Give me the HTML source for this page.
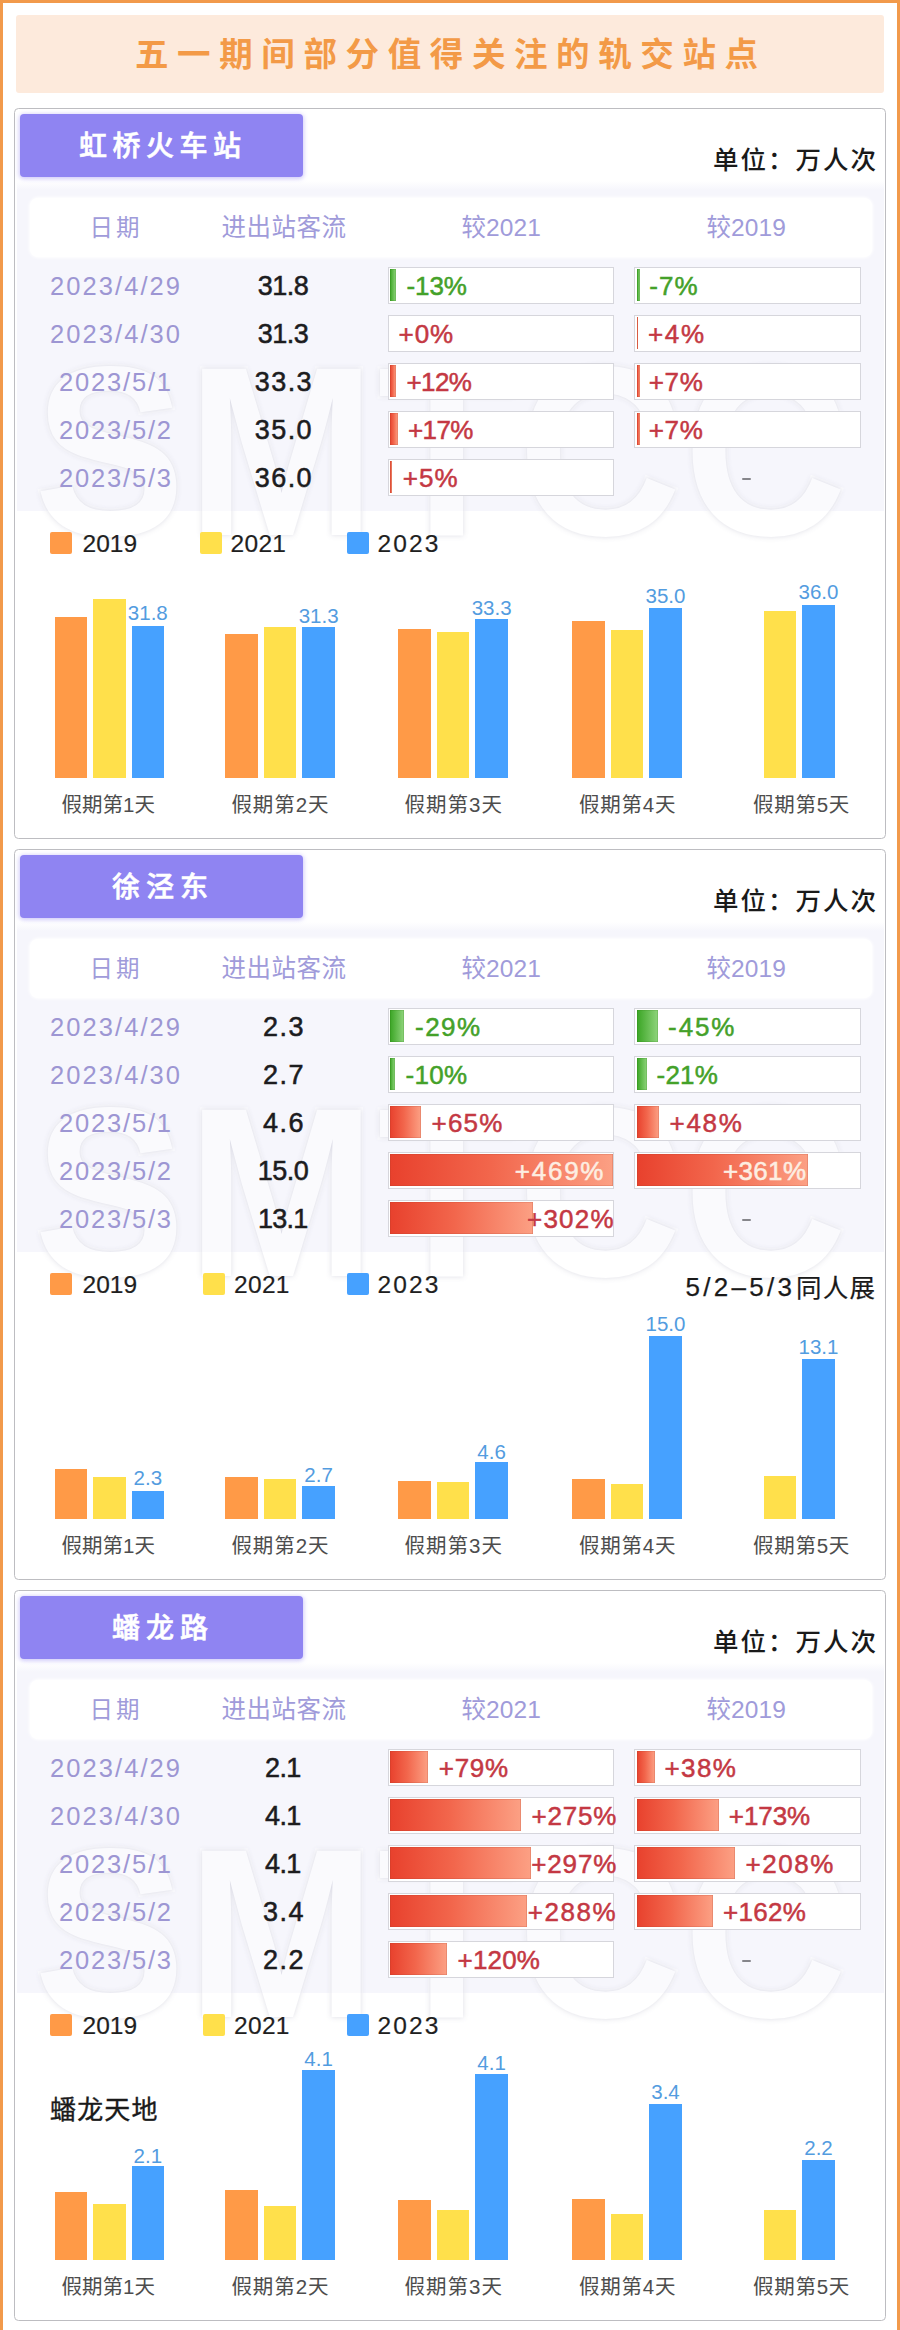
<!DOCTYPE html>
<html lang="zh-CN"><head><meta charset="utf-8"><title>五一期间部分值得关注的轨交站点</title>
<style>
html,body{margin:0;padding:0}
body{width:900px;height:2330px;position:relative;overflow:hidden;background:#fff;font-family:"Liberation Sans", "Noto Sans CJK SC", sans-serif}
#pg{position:absolute;left:0;top:0;width:900px;height:2330px;overflow:hidden}
#pg div{position:absolute}
#pg .t{height:40px;line-height:40px;white-space:nowrap;margin-top:-20px}
#pg .wm{font-weight:700;font-size:241px;line-height:241px;height:241px;color:#fff;opacity:.5;letter-spacing:2px;text-shadow:0 0 5px rgba(90,90,130,.4);white-space:nowrap;transform-origin:0 0;transform:scaleX(.94);-webkit-text-stroke:5px #fff;paint-order:stroke fill}
</style></head><body><div id="pg">
<div style="left:0.0px;top:0.0px;width:900.0px;height:3.0px;background:#f29a4b"></div>
<div style="left:0.0px;top:0.0px;width:3.0px;height:2330.0px;background:#f29a4b"></div>
<div style="left:897.0px;top:0.0px;width:3.0px;height:2330.0px;background:#f29a4b"></div>
<div style="left:15.5px;top:14.5px;width:868.0px;height:78.5px;background:#fdeadc;border-radius:3px"></div>
<div style="left:14.3px;top:108.0px;width:871.4px;height:730.5px;box-sizing:border-box;border:1.5px solid #bdbdc1;border-radius:4.5px;background:#fff"></div>
<div style="left:16.5px;top:181.0px;width:867.0px;height:329.5px;background:linear-gradient(180deg,#fff 0,#f6f6fc 9px)"></div>
<div style="left:30.0px;top:198.0px;width:842.0px;height:59.0px;background:#fff;border-radius:8px;box-shadow:0 0 3px 1px #fff"></div>
<div class="wm" style="left:34px;top:330.5px">SMTCC</div>
<div style="left:20.0px;top:114.0px;width:283.0px;height:63.0px;background:#8f84f2;border-radius:4px;box-shadow:0 1px 4px 1px rgba(150,140,245,.45)"></div>
<div style="left:387.5px;top:266.5px;width:226.5px;height:37.0px;box-sizing:border-box;border:1.5px solid #d6d6dc;background:#fff"></div>
<div style="left:390.0px;top:269.0px;width:6.2px;height:32.0px;background:linear-gradient(90deg,#3aa524 0%,#8fd47c 100%);box-shadow:inset 0 0 0 0.6px rgba(40,120,20,.35)"></div>
<div style="left:634.0px;top:266.5px;width:226.5px;height:37.0px;box-sizing:border-box;border:1.5px solid #d6d6dc;background:#fff"></div>
<div style="left:636.5px;top:269.0px;width:3.3px;height:32.0px;background:linear-gradient(90deg,#3aa524 0%,#8fd47c 100%);box-shadow:inset 0 0 0 0.6px rgba(40,120,20,.35)"></div>
<div style="left:387.5px;top:314.5px;width:226.5px;height:37.0px;box-sizing:border-box;border:1.5px solid #d6d6dc;background:#fff"></div>
<div style="left:634.0px;top:314.5px;width:226.5px;height:37.0px;box-sizing:border-box;border:1.5px solid #d6d6dc;background:#fff"></div>
<div style="left:636.5px;top:317.0px;width:1.9px;height:32.0px;background:linear-gradient(90deg,#e8412d 0%,#f2664c 45%,#fca084 100%);box-shadow:inset 0 0 0 0.6px rgba(170,60,40,.35)"></div>
<div style="left:387.5px;top:362.5px;width:226.5px;height:37.0px;box-sizing:border-box;border:1.5px solid #d6d6dc;background:#fff"></div>
<div style="left:390.0px;top:365.0px;width:5.7px;height:32.0px;background:linear-gradient(90deg,#e8412d 0%,#f2664c 45%,#fca084 100%);box-shadow:inset 0 0 0 0.6px rgba(170,60,40,.35)"></div>
<div style="left:634.0px;top:362.5px;width:226.5px;height:37.0px;box-sizing:border-box;border:1.5px solid #d6d6dc;background:#fff"></div>
<div style="left:636.5px;top:365.0px;width:3.3px;height:32.0px;background:linear-gradient(90deg,#e8412d 0%,#f2664c 45%,#fca084 100%);box-shadow:inset 0 0 0 0.6px rgba(170,60,40,.35)"></div>
<div style="left:387.5px;top:410.5px;width:226.5px;height:37.0px;box-sizing:border-box;border:1.5px solid #d6d6dc;background:#fff"></div>
<div style="left:390.0px;top:413.0px;width:8.1px;height:32.0px;background:linear-gradient(90deg,#e8412d 0%,#f2664c 45%,#fca084 100%);box-shadow:inset 0 0 0 0.6px rgba(170,60,40,.35)"></div>
<div style="left:634.0px;top:410.5px;width:226.5px;height:37.0px;box-sizing:border-box;border:1.5px solid #d6d6dc;background:#fff"></div>
<div style="left:636.5px;top:413.0px;width:3.3px;height:32.0px;background:linear-gradient(90deg,#e8412d 0%,#f2664c 45%,#fca084 100%);box-shadow:inset 0 0 0 0.6px rgba(170,60,40,.35)"></div>
<div style="left:387.5px;top:458.5px;width:226.5px;height:37.0px;box-sizing:border-box;border:1.5px solid #d6d6dc;background:#fff"></div>
<div style="left:390.0px;top:461.0px;width:2.4px;height:32.0px;background:linear-gradient(90deg,#e8412d 0%,#f2664c 45%,#fca084 100%);box-shadow:inset 0 0 0 0.6px rgba(170,60,40,.35)"></div>
<div style="left:742.0px;top:478.0px;width:9.3px;height:2.2px;background:#86868b;border-radius:1px"></div>
<div style="left:50.0px;top:532.0px;width:22.0px;height:22.0px;background:#ff9a47;border-radius:2px"></div>
<div style="left:200.0px;top:532.0px;width:22.0px;height:22.0px;background:#ffe04b;border-radius:2px"></div>
<div style="left:346.5px;top:532.0px;width:22.0px;height:22.0px;background:#46a1ff;border-radius:2px"></div>
<div style="left:54.6px;top:616.5px;width:32.5px;height:161.5px;background:#ff9a47"></div>
<div style="left:93.1px;top:598.5px;width:32.5px;height:179.5px;background:#ffe04b"></div>
<div style="left:131.6px;top:625.5px;width:32.5px;height:152.5px;background:#46a1ff"></div>
<div style="left:225.3px;top:634.0px;width:32.5px;height:144.0px;background:#ff9a47"></div>
<div style="left:263.8px;top:626.5px;width:32.5px;height:151.5px;background:#ffe04b"></div>
<div style="left:302.3px;top:626.5px;width:32.5px;height:151.5px;background:#46a1ff"></div>
<div style="left:398.3px;top:628.5px;width:32.5px;height:149.5px;background:#ff9a47"></div>
<div style="left:436.8px;top:632.0px;width:32.5px;height:146.0px;background:#ffe04b"></div>
<div style="left:475.3px;top:619.0px;width:32.5px;height:159.0px;background:#46a1ff"></div>
<div style="left:572.3px;top:620.5px;width:32.5px;height:157.5px;background:#ff9a47"></div>
<div style="left:610.8px;top:630.0px;width:32.5px;height:148.0px;background:#ffe04b"></div>
<div style="left:649.3px;top:607.5px;width:32.5px;height:170.5px;background:#46a1ff"></div>
<div style="left:763.8px;top:611.0px;width:32.5px;height:167.0px;background:#ffe04b"></div>
<div style="left:802.3px;top:605.0px;width:32.5px;height:173.0px;background:#46a1ff"></div>
<div style="left:14.3px;top:849.0px;width:871.4px;height:730.5px;box-sizing:border-box;border:1.5px solid #bdbdc1;border-radius:4.5px;background:#fff"></div>
<div style="left:16.5px;top:922.0px;width:867.0px;height:329.5px;background:linear-gradient(180deg,#fff 0,#f6f6fc 9px)"></div>
<div style="left:30.0px;top:939.0px;width:842.0px;height:59.0px;background:#fff;border-radius:8px;box-shadow:0 0 3px 1px #fff"></div>
<div class="wm" style="left:34px;top:1071.5px">SMTCC</div>
<div style="left:20.0px;top:855.0px;width:283.0px;height:63.0px;background:#8f84f2;border-radius:4px;box-shadow:0 1px 4px 1px rgba(150,140,245,.45)"></div>
<div style="left:387.5px;top:1007.5px;width:226.5px;height:37.0px;box-sizing:border-box;border:1.5px solid #d6d6dc;background:#fff"></div>
<div style="left:390.0px;top:1010.0px;width:13.8px;height:32.0px;background:linear-gradient(90deg,#3aa524 0%,#8fd47c 100%);box-shadow:inset 0 0 0 0.6px rgba(40,120,20,.35)"></div>
<div style="left:634.0px;top:1007.5px;width:226.5px;height:37.0px;box-sizing:border-box;border:1.5px solid #d6d6dc;background:#fff"></div>
<div style="left:636.5px;top:1010.0px;width:21.3px;height:32.0px;background:linear-gradient(90deg,#3aa524 0%,#8fd47c 100%);box-shadow:inset 0 0 0 0.6px rgba(40,120,20,.35)"></div>
<div style="left:387.5px;top:1055.5px;width:226.5px;height:37.0px;box-sizing:border-box;border:1.5px solid #d6d6dc;background:#fff"></div>
<div style="left:390.0px;top:1058.0px;width:4.7px;height:32.0px;background:linear-gradient(90deg,#3aa524 0%,#8fd47c 100%);box-shadow:inset 0 0 0 0.6px rgba(40,120,20,.35)"></div>
<div style="left:634.0px;top:1055.5px;width:226.5px;height:37.0px;box-sizing:border-box;border:1.5px solid #d6d6dc;background:#fff"></div>
<div style="left:636.5px;top:1058.0px;width:10.0px;height:32.0px;background:linear-gradient(90deg,#3aa524 0%,#8fd47c 100%);box-shadow:inset 0 0 0 0.6px rgba(40,120,20,.35)"></div>
<div style="left:387.5px;top:1103.5px;width:226.5px;height:37.0px;box-sizing:border-box;border:1.5px solid #d6d6dc;background:#fff"></div>
<div style="left:390.0px;top:1106.0px;width:30.8px;height:32.0px;background:linear-gradient(90deg,#e8412d 0%,#f2664c 45%,#fca084 100%);box-shadow:inset 0 0 0 0.6px rgba(170,60,40,.35)"></div>
<div style="left:634.0px;top:1103.5px;width:226.5px;height:37.0px;box-sizing:border-box;border:1.5px solid #d6d6dc;background:#fff"></div>
<div style="left:636.5px;top:1106.0px;width:22.8px;height:32.0px;background:linear-gradient(90deg,#e8412d 0%,#f2664c 45%,#fca084 100%);box-shadow:inset 0 0 0 0.6px rgba(170,60,40,.35)"></div>
<div style="left:387.5px;top:1151.5px;width:226.5px;height:37.0px;box-sizing:border-box;border:1.5px solid #d6d6dc;background:#fff"></div>
<div style="left:390.0px;top:1154.0px;width:222.5px;height:32.0px;background:linear-gradient(90deg,#e8412d 0%,#f2664c 45%,#fca084 100%);box-shadow:inset 0 0 0 0.6px rgba(170,60,40,.35)"></div>
<div style="left:634.0px;top:1151.5px;width:226.5px;height:37.0px;box-sizing:border-box;border:1.5px solid #d6d6dc;background:#fff"></div>
<div style="left:636.5px;top:1154.0px;width:171.3px;height:32.0px;background:linear-gradient(90deg,#e8412d 0%,#f2664c 45%,#fca084 100%);box-shadow:inset 0 0 0 0.6px rgba(170,60,40,.35)"></div>
<div style="left:387.5px;top:1199.5px;width:226.5px;height:37.0px;box-sizing:border-box;border:1.5px solid #d6d6dc;background:#fff"></div>
<div style="left:390.0px;top:1202.0px;width:143.3px;height:32.0px;background:linear-gradient(90deg,#e8412d 0%,#f2664c 45%,#fca084 100%);box-shadow:inset 0 0 0 0.6px rgba(170,60,40,.35)"></div>
<div style="left:742.0px;top:1219.0px;width:9.3px;height:2.2px;background:#86868b;border-radius:1px"></div>
<div style="left:50.0px;top:1273.0px;width:22.0px;height:22.0px;background:#ff9a47;border-radius:2px"></div>
<div style="left:202.5px;top:1273.0px;width:22.0px;height:22.0px;background:#ffe04b;border-radius:2px"></div>
<div style="left:346.5px;top:1273.0px;width:22.0px;height:22.0px;background:#46a1ff;border-radius:2px"></div>
<div style="left:54.6px;top:1469.0px;width:32.5px;height:50.0px;background:#ff9a47"></div>
<div style="left:93.1px;top:1476.5px;width:32.5px;height:42.5px;background:#ffe04b"></div>
<div style="left:131.6px;top:1490.5px;width:32.5px;height:28.5px;background:#46a1ff"></div>
<div style="left:225.3px;top:1477.0px;width:32.5px;height:42.0px;background:#ff9a47"></div>
<div style="left:263.8px;top:1479.0px;width:32.5px;height:40.0px;background:#ffe04b"></div>
<div style="left:302.3px;top:1486.0px;width:32.5px;height:33.0px;background:#46a1ff"></div>
<div style="left:398.3px;top:1480.5px;width:32.5px;height:38.5px;background:#ff9a47"></div>
<div style="left:436.8px;top:1481.5px;width:32.5px;height:37.5px;background:#ffe04b"></div>
<div style="left:475.3px;top:1461.5px;width:32.5px;height:57.5px;background:#46a1ff"></div>
<div style="left:572.3px;top:1478.5px;width:32.5px;height:40.5px;background:#ff9a47"></div>
<div style="left:610.8px;top:1483.5px;width:32.5px;height:35.5px;background:#ffe04b"></div>
<div style="left:649.3px;top:1336.0px;width:32.5px;height:183.0px;background:#46a1ff"></div>
<div style="left:763.8px;top:1475.5px;width:32.5px;height:43.5px;background:#ffe04b"></div>
<div style="left:802.3px;top:1359.0px;width:32.5px;height:160.0px;background:#46a1ff"></div>
<div style="left:14.3px;top:1590.0px;width:871.4px;height:730.5px;box-sizing:border-box;border:1.5px solid #bdbdc1;border-radius:4.5px;background:#fff"></div>
<div style="left:16.5px;top:1663.0px;width:867.0px;height:329.5px;background:linear-gradient(180deg,#fff 0,#f6f6fc 9px)"></div>
<div style="left:30.0px;top:1680.0px;width:842.0px;height:59.0px;background:#fff;border-radius:8px;box-shadow:0 0 3px 1px #fff"></div>
<div class="wm" style="left:34px;top:1812.5px">SMTCC</div>
<div style="left:20.0px;top:1596.0px;width:283.0px;height:63.0px;background:#8f84f2;border-radius:4px;box-shadow:0 1px 4px 1px rgba(150,140,245,.45)"></div>
<div style="left:387.5px;top:1748.5px;width:226.5px;height:37.0px;box-sizing:border-box;border:1.5px solid #d6d6dc;background:#fff"></div>
<div style="left:390.0px;top:1751.0px;width:37.5px;height:32.0px;background:linear-gradient(90deg,#e8412d 0%,#f2664c 45%,#fca084 100%);box-shadow:inset 0 0 0 0.6px rgba(170,60,40,.35)"></div>
<div style="left:634.0px;top:1748.5px;width:226.5px;height:37.0px;box-sizing:border-box;border:1.5px solid #d6d6dc;background:#fff"></div>
<div style="left:636.5px;top:1751.0px;width:18.0px;height:32.0px;background:linear-gradient(90deg,#e8412d 0%,#f2664c 45%,#fca084 100%);box-shadow:inset 0 0 0 0.6px rgba(170,60,40,.35)"></div>
<div style="left:387.5px;top:1796.5px;width:226.5px;height:37.0px;box-sizing:border-box;border:1.5px solid #d6d6dc;background:#fff"></div>
<div style="left:390.0px;top:1799.0px;width:130.5px;height:32.0px;background:linear-gradient(90deg,#e8412d 0%,#f2664c 45%,#fca084 100%);box-shadow:inset 0 0 0 0.6px rgba(170,60,40,.35)"></div>
<div style="left:634.0px;top:1796.5px;width:226.5px;height:37.0px;box-sizing:border-box;border:1.5px solid #d6d6dc;background:#fff"></div>
<div style="left:636.5px;top:1799.0px;width:82.1px;height:32.0px;background:linear-gradient(90deg,#e8412d 0%,#f2664c 45%,#fca084 100%);box-shadow:inset 0 0 0 0.6px rgba(170,60,40,.35)"></div>
<div style="left:387.5px;top:1844.5px;width:226.5px;height:37.0px;box-sizing:border-box;border:1.5px solid #d6d6dc;background:#fff"></div>
<div style="left:390.0px;top:1847.0px;width:140.9px;height:32.0px;background:linear-gradient(90deg,#e8412d 0%,#f2664c 45%,#fca084 100%);box-shadow:inset 0 0 0 0.6px rgba(170,60,40,.35)"></div>
<div style="left:634.0px;top:1844.5px;width:226.5px;height:37.0px;box-sizing:border-box;border:1.5px solid #d6d6dc;background:#fff"></div>
<div style="left:636.5px;top:1847.0px;width:98.7px;height:32.0px;background:linear-gradient(90deg,#e8412d 0%,#f2664c 45%,#fca084 100%);box-shadow:inset 0 0 0 0.6px rgba(170,60,40,.35)"></div>
<div style="left:387.5px;top:1892.5px;width:226.5px;height:37.0px;box-sizing:border-box;border:1.5px solid #d6d6dc;background:#fff"></div>
<div style="left:390.0px;top:1895.0px;width:136.6px;height:32.0px;background:linear-gradient(90deg,#e8412d 0%,#f2664c 45%,#fca084 100%);box-shadow:inset 0 0 0 0.6px rgba(170,60,40,.35)"></div>
<div style="left:634.0px;top:1892.5px;width:226.5px;height:37.0px;box-sizing:border-box;border:1.5px solid #d6d6dc;background:#fff"></div>
<div style="left:636.5px;top:1895.0px;width:76.9px;height:32.0px;background:linear-gradient(90deg,#e8412d 0%,#f2664c 45%,#fca084 100%);box-shadow:inset 0 0 0 0.6px rgba(170,60,40,.35)"></div>
<div style="left:387.5px;top:1940.5px;width:226.5px;height:37.0px;box-sizing:border-box;border:1.5px solid #d6d6dc;background:#fff"></div>
<div style="left:390.0px;top:1943.0px;width:56.9px;height:32.0px;background:linear-gradient(90deg,#e8412d 0%,#f2664c 45%,#fca084 100%);box-shadow:inset 0 0 0 0.6px rgba(170,60,40,.35)"></div>
<div style="left:742.0px;top:1960.0px;width:9.3px;height:2.2px;background:#86868b;border-radius:1px"></div>
<div style="left:50.0px;top:2014.0px;width:22.0px;height:22.0px;background:#ff9a47;border-radius:2px"></div>
<div style="left:202.5px;top:2014.0px;width:22.0px;height:22.0px;background:#ffe04b;border-radius:2px"></div>
<div style="left:346.5px;top:2014.0px;width:22.0px;height:22.0px;background:#46a1ff;border-radius:2px"></div>
<div style="left:54.6px;top:2191.5px;width:32.5px;height:68.5px;background:#ff9a47"></div>
<div style="left:93.1px;top:2203.5px;width:32.5px;height:56.5px;background:#ffe04b"></div>
<div style="left:131.6px;top:2166.0px;width:32.5px;height:94.0px;background:#46a1ff"></div>
<div style="left:225.3px;top:2190.0px;width:32.5px;height:70.0px;background:#ff9a47"></div>
<div style="left:263.8px;top:2205.5px;width:32.5px;height:54.5px;background:#ffe04b"></div>
<div style="left:302.3px;top:2070.0px;width:32.5px;height:190.0px;background:#46a1ff"></div>
<div style="left:398.3px;top:2199.5px;width:32.5px;height:60.5px;background:#ff9a47"></div>
<div style="left:436.8px;top:2210.0px;width:32.5px;height:50.0px;background:#ffe04b"></div>
<div style="left:475.3px;top:2074.0px;width:32.5px;height:186.0px;background:#46a1ff"></div>
<div style="left:572.3px;top:2199.0px;width:32.5px;height:61.0px;background:#ff9a47"></div>
<div style="left:610.8px;top:2214.0px;width:32.5px;height:46.0px;background:#ffe04b"></div>
<div style="left:649.3px;top:2104.0px;width:32.5px;height:156.0px;background:#46a1ff"></div>
<div style="left:763.8px;top:2210.0px;width:32.5px;height:50.0px;background:#ffe04b"></div>
<div style="left:802.3px;top:2160.0px;width:32.5px;height:100.0px;background:#46a1ff"></div>
<div class="t" id="t1" style="font-size:33.5px;color:#f39a47;font-weight:700;letter-spacing:8.61px;left:135.0px;top:54.5px;"><span>五一期间部分值得关注的轨交站点</span></div>
<div class="t" id="t2" style="font-size:28px;color:#fff;font-weight:500;-webkit-text-stroke:0.6px #fff;letter-spacing:5.50px;left:79.0px;top:146.5px;"><span>虹桥火车站</span></div>
<div class="t" id="t3" style="font-size:25.5px;color:#1a1a1a;font-weight:500;letter-spacing:2.00px;right:22.0px;top:159.5px;"><span>单位：万人次</span></div>
<div class="t" id="t4" style="font-size:23.5px;color:#a09bda;letter-spacing:3.00px;left:89.5px;top:228.0px;"><span>日期</span></div>
<div class="t" id="t5" style="font-size:24.5px;color:#a09bda;letter-spacing:0.50px;left:221.5px;top:228.0px;"><span>进出站客流</span></div>
<div class="t" id="t6" style="font-size:24.5px;color:#a09bda;letter-spacing:0.12px;left:461.5px;top:228.0px;"><span>较2021</span></div>
<div class="t" id="t7" style="font-size:24.5px;color:#a09bda;letter-spacing:0.12px;left:706.5px;top:228.0px;"><span>较2019</span></div>
<div class="t" id="t8" style="font-size:25.5px;color:#9d96d3;letter-spacing:2.07px;left:116.0px;width:0;display:flex;justify-content:center;top:286.0px;"><span>2023/4/29</span></div>
<div class="t" id="t9" style="font-size:27px;color:#1c1c1e;-webkit-text-stroke:0.55px #1c1c1e;letter-spacing:-0.49px;left:283.0px;width:0;display:flex;justify-content:center;top:285.7px;"><span>31.8</span></div>
<div class="t" id="t10" style="font-size:26px;color:#44a129;-webkit-text-stroke:0.5px #44a129;letter-spacing:-0.07px;left:406.5px;top:285.5px;"><span>-13%</span></div>
<div class="t" id="t11" style="font-size:26px;color:#44a129;-webkit-text-stroke:0.5px #44a129;letter-spacing:1.03px;left:649.3px;top:285.5px;"><span>-7%</span></div>
<div class="t" id="t12" style="font-size:25.5px;color:#9d96d3;letter-spacing:2.07px;left:116.0px;width:0;display:flex;justify-content:center;top:334.0px;"><span>2023/4/30</span></div>
<div class="t" id="t13" style="font-size:27px;color:#1c1c1e;-webkit-text-stroke:0.55px #1c1c1e;letter-spacing:-0.49px;left:283.0px;width:0;display:flex;justify-content:center;top:333.7px;"><span>31.3</span></div>
<div class="t" id="t14" style="font-size:26px;color:#c43843;-webkit-text-stroke:0.5px #c43843;letter-spacing:0.92px;left:398.6px;top:333.5px;"><span>+0%</span></div>
<div class="t" id="t15" style="font-size:26px;color:#c43843;-webkit-text-stroke:0.5px #c43843;letter-spacing:1.62px;left:648.0px;top:333.5px;"><span>+4%</span></div>
<div class="t" id="t16" style="font-size:25.5px;color:#9d96d3;letter-spacing:1.82px;left:115.9px;width:0;display:flex;justify-content:center;top:382.0px;"><span>2023/5/1</span></div>
<div class="t" id="t17" style="font-size:27px;color:#1c1c1e;-webkit-text-stroke:0.55px #1c1c1e;letter-spacing:1.45px;left:283.9px;width:0;display:flex;justify-content:center;top:381.7px;"><span>33.3</span></div>
<div class="t" id="t18" style="font-size:26px;color:#c43843;-webkit-text-stroke:0.5px #c43843;letter-spacing:-0.58px;left:406.5px;top:381.5px;"><span>+12%</span></div>
<div class="t" id="t19" style="font-size:26px;color:#c43843;-webkit-text-stroke:0.5px #c43843;letter-spacing:0.62px;left:648.8px;top:381.5px;"><span>+7%</span></div>
<div class="t" id="t20" style="font-size:25.5px;color:#9d96d3;letter-spacing:1.82px;left:115.9px;width:0;display:flex;justify-content:center;top:430.0px;"><span>2023/5/2</span></div>
<div class="t" id="t21" style="font-size:27px;color:#1c1c1e;-webkit-text-stroke:0.55px #1c1c1e;letter-spacing:1.45px;left:283.9px;width:0;display:flex;justify-content:center;top:429.7px;"><span>35.0</span></div>
<div class="t" id="t22" style="font-size:26px;color:#c43843;-webkit-text-stroke:0.5px #c43843;letter-spacing:-0.58px;left:408.0px;top:429.5px;"><span>+17%</span></div>
<div class="t" id="t23" style="font-size:26px;color:#c43843;-webkit-text-stroke:0.5px #c43843;letter-spacing:0.62px;left:648.8px;top:429.5px;"><span>+7%</span></div>
<div class="t" id="t24" style="font-size:25.5px;color:#9d96d3;letter-spacing:1.82px;left:115.9px;width:0;display:flex;justify-content:center;top:478.0px;"><span>2023/5/3</span></div>
<div class="t" id="t25" style="font-size:27px;color:#1c1c1e;-webkit-text-stroke:0.55px #1c1c1e;letter-spacing:1.45px;left:283.9px;width:0;display:flex;justify-content:center;top:477.7px;"><span>36.0</span></div>
<div class="t" id="t26" style="font-size:26px;color:#c43843;-webkit-text-stroke:0.5px #c43843;letter-spacing:1.07px;left:402.7px;top:477.5px;"><span>+5%</span></div>
<div class="t" id="t27" style="font-size:24.5px;color:#1f1f1f;-webkit-text-stroke:0.2px #1f1f1f;left:82.5px;top:543.5px;"><span>2019</span></div>
<div class="t" id="t28" style="font-size:24.5px;color:#1f1f1f;-webkit-text-stroke:0.2px #1f1f1f;letter-spacing:0.33px;left:230.5px;top:543.5px;"><span>2021</span></div>
<div class="t" id="t29" style="font-size:24.5px;color:#1f1f1f;-webkit-text-stroke:0.2px #1f1f1f;letter-spacing:2.16px;left:377.5px;top:543.5px;"><span>2023</span></div>
<div class="t" id="t30" style="font-size:20.5px;color:#539cdf;left:147.8px;width:0;display:flex;justify-content:center;top:613.2px;"><span>31.8</span></div>
<div class="t" id="t31" style="font-size:20.5px;color:#4d4d4d;letter-spacing:0.02px;left:108.2px;width:0;display:flex;justify-content:center;top:805.0px;"><span>假期第1天</span></div>
<div class="t" id="t32" style="font-size:20.5px;color:#539cdf;left:318.6px;width:0;display:flex;justify-content:center;top:615.5px;"><span>31.3</span></div>
<div class="t" id="t33" style="font-size:20.5px;color:#4d4d4d;letter-spacing:0.90px;left:280.4px;width:0;display:flex;justify-content:center;top:805.0px;"><span>假期第2天</span></div>
<div class="t" id="t34" style="font-size:20.5px;color:#539cdf;left:491.6px;width:0;display:flex;justify-content:center;top:607.6px;"><span>33.3</span></div>
<div class="t" id="t35" style="font-size:20.5px;color:#4d4d4d;letter-spacing:1.02px;left:453.8px;width:0;display:flex;justify-content:center;top:805.0px;"><span>假期第3天</span></div>
<div class="t" id="t36" style="font-size:20.5px;color:#539cdf;left:665.5px;width:0;display:flex;justify-content:center;top:595.5px;"><span>35.0</span></div>
<div class="t" id="t37" style="font-size:20.5px;color:#4d4d4d;letter-spacing:0.75px;left:627.6px;width:0;display:flex;justify-content:center;top:805.0px;"><span>假期第4天</span></div>
<div class="t" id="t38" style="font-size:20.5px;color:#539cdf;left:818.5px;width:0;display:flex;justify-content:center;top:592.0px;"><span>36.0</span></div>
<div class="t" id="t39" style="font-size:20.5px;color:#4d4d4d;letter-spacing:0.75px;left:801.5px;width:0;display:flex;justify-content:center;top:805.0px;"><span>假期第5天</span></div>
<div class="t" id="t40" style="font-size:28px;color:#fff;font-weight:500;-webkit-text-stroke:0.6px #fff;letter-spacing:5.99px;left:112.0px;top:887.5px;"><span>徐泾东</span></div>
<div class="t" id="t41" style="font-size:25.5px;color:#1a1a1a;font-weight:500;letter-spacing:2.00px;right:22.0px;top:900.5px;"><span>单位：万人次</span></div>
<div class="t" id="t42" style="font-size:23.5px;color:#a09bda;letter-spacing:3.00px;left:89.5px;top:969.0px;"><span>日期</span></div>
<div class="t" id="t43" style="font-size:24.5px;color:#a09bda;letter-spacing:0.50px;left:221.5px;top:969.0px;"><span>进出站客流</span></div>
<div class="t" id="t44" style="font-size:24.5px;color:#a09bda;letter-spacing:0.12px;left:461.5px;top:969.0px;"><span>较2021</span></div>
<div class="t" id="t45" style="font-size:24.5px;color:#a09bda;letter-spacing:0.12px;left:706.5px;top:969.0px;"><span>较2019</span></div>
<div class="t" id="t46" style="font-size:25.5px;color:#9d96d3;letter-spacing:2.07px;left:116.0px;width:0;display:flex;justify-content:center;top:1027.0px;"><span>2023/4/29</span></div>
<div class="t" id="t47" style="font-size:27px;color:#1c1c1e;-webkit-text-stroke:0.55px #1c1c1e;letter-spacing:1.48px;left:283.9px;width:0;display:flex;justify-content:center;top:1026.7px;"><span>2.3</span></div>
<div class="t" id="t48" style="font-size:26px;color:#44a129;-webkit-text-stroke:0.5px #44a129;letter-spacing:1.43px;left:415.1px;top:1026.5px;"><span>-29%</span></div>
<div class="t" id="t49" style="font-size:26px;color:#44a129;-webkit-text-stroke:0.5px #44a129;letter-spacing:1.90px;left:668.1px;top:1026.5px;"><span>-45%</span></div>
<div class="t" id="t50" style="font-size:25.5px;color:#9d96d3;letter-spacing:2.07px;left:116.0px;width:0;display:flex;justify-content:center;top:1075.0px;"><span>2023/4/30</span></div>
<div class="t" id="t51" style="font-size:27px;color:#1c1c1e;-webkit-text-stroke:0.55px #1c1c1e;letter-spacing:1.48px;left:283.9px;width:0;display:flex;justify-content:center;top:1074.7px;"><span>2.7</span></div>
<div class="t" id="t52" style="font-size:26px;color:#44a129;-webkit-text-stroke:0.5px #44a129;letter-spacing:0.27px;left:405.6px;top:1074.5px;"><span>-10%</span></div>
<div class="t" id="t53" style="font-size:26px;color:#44a129;-webkit-text-stroke:0.5px #44a129;letter-spacing:0.17px;left:656.6px;top:1074.5px;"><span>-21%</span></div>
<div class="t" id="t54" style="font-size:25.5px;color:#9d96d3;letter-spacing:1.82px;left:115.9px;width:0;display:flex;justify-content:center;top:1123.0px;"><span>2023/5/1</span></div>
<div class="t" id="t55" style="font-size:27px;color:#1c1c1e;-webkit-text-stroke:0.55px #1c1c1e;letter-spacing:1.48px;left:283.9px;width:0;display:flex;justify-content:center;top:1122.7px;"><span>4.6</span></div>
<div class="t" id="t56" style="font-size:26px;color:#c43843;-webkit-text-stroke:0.5px #c43843;letter-spacing:1.16px;left:431.6px;top:1122.5px;"><span>+65%</span></div>
<div class="t" id="t57" style="font-size:26px;color:#c43843;-webkit-text-stroke:0.5px #c43843;letter-spacing:1.66px;left:669.6px;top:1122.5px;"><span>+48%</span></div>
<div class="t" id="t58" style="font-size:25.5px;color:#9d96d3;letter-spacing:1.82px;left:115.9px;width:0;display:flex;justify-content:center;top:1171.0px;"><span>2023/5/2</span></div>
<div class="t" id="t59" style="font-size:27px;color:#1c1c1e;-webkit-text-stroke:0.55px #1c1c1e;letter-spacing:-0.49px;left:283.0px;width:0;display:flex;justify-content:center;top:1170.7px;"><span>15.0</span></div>
<div class="t" id="t60" style="font-size:26px;color:#fdeee2;-webkit-text-stroke:0.5px #fdeee2;letter-spacing:1.75px;left:514.8px;top:1170.5px;"><span>+469%</span></div>
<div class="t" id="t61" style="font-size:26px;color:#fdeee2;-webkit-text-stroke:0.5px #fdeee2;letter-spacing:0.33px;left:723.0px;top:1170.5px;"><span>+361%</span></div>
<div class="t" id="t62" style="font-size:25.5px;color:#9d96d3;letter-spacing:1.82px;left:115.9px;width:0;display:flex;justify-content:center;top:1219.0px;"><span>2023/5/3</span></div>
<div class="t" id="t63" style="font-size:27px;color:#1c1c1e;-webkit-text-stroke:0.55px #1c1c1e;letter-spacing:-0.70px;left:282.8px;width:0;display:flex;justify-content:center;top:1218.7px;"><span>13.1</span></div>
<div class="t" id="t64" style="font-size:26px;color:#c43843;-webkit-text-stroke:0.5px #c43843;letter-spacing:1.23px;left:527.0px;top:1218.5px;"><span>+302%</span></div>
<div class="t" id="t65" style="font-size:24.5px;color:#1f1f1f;-webkit-text-stroke:0.2px #1f1f1f;left:82.5px;top:1284.5px;"><span>2019</span></div>
<div class="t" id="t66" style="font-size:24.5px;color:#1f1f1f;-webkit-text-stroke:0.2px #1f1f1f;letter-spacing:0.33px;left:234.0px;top:1284.5px;"><span>2021</span></div>
<div class="t" id="t67" style="font-size:24.5px;color:#1f1f1f;-webkit-text-stroke:0.2px #1f1f1f;letter-spacing:2.16px;left:377.5px;top:1284.5px;"><span>2023</span></div>
<div class="t" id="t68" style="font-size:20.5px;color:#539cdf;left:147.8px;width:0;display:flex;justify-content:center;top:1478.0px;"><span>2.3</span></div>
<div class="t" id="t69" style="font-size:20.5px;color:#4d4d4d;letter-spacing:0.02px;left:108.2px;width:0;display:flex;justify-content:center;top:1546.0px;"><span>假期第1天</span></div>
<div class="t" id="t70" style="font-size:20.5px;color:#539cdf;left:318.6px;width:0;display:flex;justify-content:center;top:1474.5px;"><span>2.7</span></div>
<div class="t" id="t71" style="font-size:20.5px;color:#4d4d4d;letter-spacing:0.90px;left:280.4px;width:0;display:flex;justify-content:center;top:1546.0px;"><span>假期第2天</span></div>
<div class="t" id="t72" style="font-size:20.5px;color:#539cdf;left:491.6px;width:0;display:flex;justify-content:center;top:1451.5px;"><span>4.6</span></div>
<div class="t" id="t73" style="font-size:20.5px;color:#4d4d4d;letter-spacing:1.02px;left:453.8px;width:0;display:flex;justify-content:center;top:1546.0px;"><span>假期第3天</span></div>
<div class="t" id="t74" style="font-size:20.5px;color:#539cdf;left:665.5px;width:0;display:flex;justify-content:center;top:1324.0px;"><span>15.0</span></div>
<div class="t" id="t75" style="font-size:20.5px;color:#4d4d4d;letter-spacing:0.75px;left:627.6px;width:0;display:flex;justify-content:center;top:1546.0px;"><span>假期第4天</span></div>
<div class="t" id="t76" style="font-size:20.5px;color:#539cdf;left:818.5px;width:0;display:flex;justify-content:center;top:1347.0px;"><span>13.1</span></div>
<div class="t" id="t77" style="font-size:20.5px;color:#4d4d4d;letter-spacing:0.75px;left:801.5px;width:0;display:flex;justify-content:center;top:1546.0px;"><span>假期第5天</span></div>
<div class="t" id="t78" style="font-size:26px;color:#1a1a1a;-webkit-text-stroke:0.25px #1a1a1a;letter-spacing:3.27px;left:685.6px;top:1287.0px;"><span>5/2–5/3</span></div>
<div class="t" id="t79" style="font-size:25.5px;color:#1a1a1a;-webkit-text-stroke:0.2px #1a1a1a;letter-spacing:1.24px;left:796.0px;top:1288.0px;"><span>同人展</span></div>
<div class="t" id="t80" style="font-size:28px;color:#fff;font-weight:500;-webkit-text-stroke:0.6px #fff;letter-spacing:5.99px;left:112.0px;top:1628.5px;"><span>蟠龙路</span></div>
<div class="t" id="t81" style="font-size:25.5px;color:#1a1a1a;font-weight:500;letter-spacing:2.00px;right:22.0px;top:1641.5px;"><span>单位：万人次</span></div>
<div class="t" id="t82" style="font-size:23.5px;color:#a09bda;letter-spacing:3.00px;left:89.5px;top:1710.0px;"><span>日期</span></div>
<div class="t" id="t83" style="font-size:24.5px;color:#a09bda;letter-spacing:0.50px;left:221.5px;top:1710.0px;"><span>进出站客流</span></div>
<div class="t" id="t84" style="font-size:24.5px;color:#a09bda;letter-spacing:0.12px;left:461.5px;top:1710.0px;"><span>较2021</span></div>
<div class="t" id="t85" style="font-size:24.5px;color:#a09bda;letter-spacing:0.12px;left:706.5px;top:1710.0px;"><span>较2019</span></div>
<div class="t" id="t86" style="font-size:25.5px;color:#9d96d3;letter-spacing:2.07px;left:116.0px;width:0;display:flex;justify-content:center;top:1768.0px;"><span>2023/4/29</span></div>
<div class="t" id="t87" style="font-size:27px;color:#1c1c1e;-webkit-text-stroke:0.55px #1c1c1e;letter-spacing:-0.70px;left:282.8px;width:0;display:flex;justify-content:center;top:1767.7px;"><span>2.1</span></div>
<div class="t" id="t88" style="font-size:26px;color:#c43843;-webkit-text-stroke:0.5px #c43843;letter-spacing:0.69px;left:438.8px;top:1767.5px;"><span>+79%</span></div>
<div class="t" id="t89" style="font-size:26px;color:#c43843;-webkit-text-stroke:0.5px #c43843;letter-spacing:1.46px;left:664.4px;top:1767.5px;"><span>+38%</span></div>
<div class="t" id="t90" style="font-size:25.5px;color:#9d96d3;letter-spacing:2.07px;left:116.0px;width:0;display:flex;justify-content:center;top:1816.0px;"><span>2023/4/30</span></div>
<div class="t" id="t91" style="font-size:27px;color:#1c1c1e;-webkit-text-stroke:0.55px #1c1c1e;letter-spacing:-0.70px;left:282.8px;width:0;display:flex;justify-content:center;top:1815.7px;"><span>4.1</span></div>
<div class="t" id="t92" style="font-size:26px;color:#c43843;-webkit-text-stroke:0.5px #c43843;letter-spacing:0.80px;left:531.5px;top:1815.5px;"><span>+275%</span></div>
<div class="t" id="t93" style="font-size:26px;color:#c43843;-webkit-text-stroke:0.5px #c43843;letter-spacing:-0.07px;left:728.8px;top:1815.5px;"><span>+173%</span></div>
<div class="t" id="t94" style="font-size:25.5px;color:#9d96d3;letter-spacing:1.82px;left:115.9px;width:0;display:flex;justify-content:center;top:1864.0px;"><span>2023/5/1</span></div>
<div class="t" id="t95" style="font-size:27px;color:#1c1c1e;-webkit-text-stroke:0.55px #1c1c1e;letter-spacing:-0.70px;left:282.8px;width:0;display:flex;justify-content:center;top:1863.7px;"><span>4.1</span></div>
<div class="t" id="t96" style="font-size:26px;color:#c43843;-webkit-text-stroke:0.5px #c43843;letter-spacing:0.88px;left:531.2px;top:1863.5px;"><span>+297%</span></div>
<div class="t" id="t97" style="font-size:26px;color:#c43843;-webkit-text-stroke:0.5px #c43843;letter-spacing:1.53px;left:745.5px;top:1863.5px;"><span>+208%</span></div>
<div class="t" id="t98" style="font-size:25.5px;color:#9d96d3;letter-spacing:1.82px;left:115.9px;width:0;display:flex;justify-content:center;top:1912.0px;"><span>2023/5/2</span></div>
<div class="t" id="t99" style="font-size:27px;color:#1c1c1e;-webkit-text-stroke:0.55px #1c1c1e;letter-spacing:1.48px;left:283.9px;width:0;display:flex;justify-content:center;top:1911.7px;"><span>3.4</span></div>
<div class="t" id="t100" style="font-size:26px;color:#c43843;-webkit-text-stroke:0.5px #c43843;letter-spacing:1.53px;left:527.8px;top:1911.5px;"><span>+288%</span></div>
<div class="t" id="t101" style="font-size:26px;color:#c43843;-webkit-text-stroke:0.5px #c43843;letter-spacing:0.30px;left:723.0px;top:1911.5px;"><span>+162%</span></div>
<div class="t" id="t102" style="font-size:25.5px;color:#9d96d3;letter-spacing:1.82px;left:115.9px;width:0;display:flex;justify-content:center;top:1960.0px;"><span>2023/5/3</span></div>
<div class="t" id="t103" style="font-size:27px;color:#1c1c1e;-webkit-text-stroke:0.55px #1c1c1e;letter-spacing:1.48px;left:283.9px;width:0;display:flex;justify-content:center;top:1959.7px;"><span>2.2</span></div>
<div class="t" id="t104" style="font-size:26px;color:#c43843;-webkit-text-stroke:0.5px #c43843;letter-spacing:0.15px;left:457.6px;top:1959.5px;"><span>+120%</span></div>
<div class="t" id="t105" style="font-size:24.5px;color:#1f1f1f;-webkit-text-stroke:0.2px #1f1f1f;left:82.5px;top:2025.5px;"><span>2019</span></div>
<div class="t" id="t106" style="font-size:24.5px;color:#1f1f1f;-webkit-text-stroke:0.2px #1f1f1f;letter-spacing:0.33px;left:234.0px;top:2025.5px;"><span>2021</span></div>
<div class="t" id="t107" style="font-size:24.5px;color:#1f1f1f;-webkit-text-stroke:0.2px #1f1f1f;letter-spacing:2.16px;left:377.5px;top:2025.5px;"><span>2023</span></div>
<div class="t" id="t108" style="font-size:20.5px;color:#539cdf;left:147.8px;width:0;display:flex;justify-content:center;top:2155.5px;"><span>2.1</span></div>
<div class="t" id="t109" style="font-size:20.5px;color:#4d4d4d;letter-spacing:0.02px;left:108.2px;width:0;display:flex;justify-content:center;top:2287.0px;"><span>假期第1天</span></div>
<div class="t" id="t110" style="font-size:20.5px;color:#539cdf;left:318.6px;width:0;display:flex;justify-content:center;top:2059.0px;"><span>4.1</span></div>
<div class="t" id="t111" style="font-size:20.5px;color:#4d4d4d;letter-spacing:0.90px;left:280.4px;width:0;display:flex;justify-content:center;top:2287.0px;"><span>假期第2天</span></div>
<div class="t" id="t112" style="font-size:20.5px;color:#539cdf;left:491.6px;width:0;display:flex;justify-content:center;top:2063.0px;"><span>4.1</span></div>
<div class="t" id="t113" style="font-size:20.5px;color:#4d4d4d;letter-spacing:1.02px;left:453.8px;width:0;display:flex;justify-content:center;top:2287.0px;"><span>假期第3天</span></div>
<div class="t" id="t114" style="font-size:20.5px;color:#539cdf;left:665.5px;width:0;display:flex;justify-content:center;top:2091.8px;"><span>3.4</span></div>
<div class="t" id="t115" style="font-size:20.5px;color:#4d4d4d;letter-spacing:0.75px;left:627.6px;width:0;display:flex;justify-content:center;top:2287.0px;"><span>假期第4天</span></div>
<div class="t" id="t116" style="font-size:20.5px;color:#539cdf;left:818.5px;width:0;display:flex;justify-content:center;top:2148.2px;"><span>2.2</span></div>
<div class="t" id="t117" style="font-size:20.5px;color:#4d4d4d;letter-spacing:0.75px;left:801.5px;width:0;display:flex;justify-content:center;top:2287.0px;"><span>假期第5天</span></div>
<div class="t" id="t118" style="font-size:26px;color:#1a1a1a;-webkit-text-stroke:0.35px #1a1a1a;letter-spacing:1.16px;left:50.0px;top:2109.5px;"><span>蟠龙天地</span></div>
</div></body></html>
